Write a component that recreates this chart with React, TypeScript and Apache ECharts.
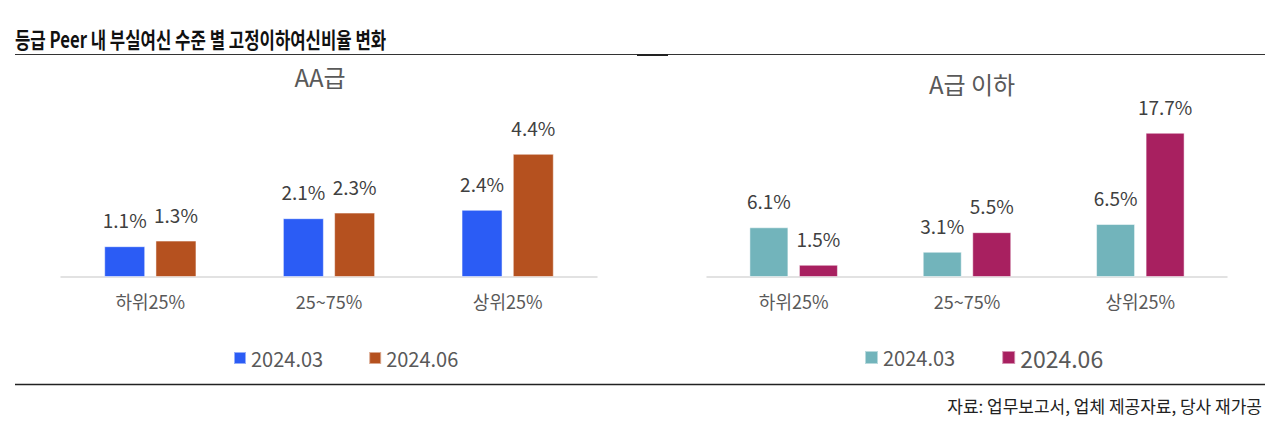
import { useEffect, useRef } from "react";
import * as echarts from "echarts";

const CATEGORIES = ["하위25%", "25~75%", "상위25%"];
const PERIODS = ["2024.03", "2024.06"];
// AA급
const AA_MAR = [1.1, 2.1, 2.4];
const AA_JUN = [1.3, 2.3, 4.4];
// A급 이하
const A_MAR = [6.1, 3.1, 6.5];
const A_JUN = [1.5, 5.5, 17.7];

const TITLE = "등급 Peer 내 부실여신 수준 별 고정이하여신비율 변화";
const SOURCE = "자료: 업무보고서, 업체 제공자료, 당사 재가공";

const FONT = "'Noto Sans CJK KR', 'Noto Sans', sans-serif";
const GRAY = "#595959";
const LABEL = "#404040";

export default function App() {
  const ref = useRef<HTMLDivElement>(null);

  useEffect(() => {
    document.body.style.margin = "0";
    if (!ref.current) return;
    const chart = echarts.init(ref.current, undefined, { renderer: "svg" });

    const bar = (name: string, data: number[], color: string, axis: number) => ({
      name,
      type: "bar",
      xAxisIndex: axis,
      yAxisIndex: axis,
      data,
      barWidth: axis === 0 ? 41 : 39,
      barGap: axis === 0 ? "25%" : "27%",
      itemStyle: { color, borderColor: "rgba(255,255,255,0.5)", borderWidth: 1 },
      label: {
        show: true,
        position: "top",
        distance: 17,
        color: LABEL,
        fontSize: 19,
        fontFamily: FONT,
        formatter: (p: { value: number }) => `${p.value.toFixed(1)}%`,
      },
    });

    const xAx = (i: number) => ({
      type: "category",
      gridIndex: i,
      data: CATEGORIES,
      axisLine: { lineStyle: { color: "#d9d9d9", width: 1.5 } },
      axisTick: { show: false },
      axisLabel: { color: GRAY, fontSize: 18, fontFamily: FONT, margin: 15 },
    });

    chart.setOption({
      animation: false,
      backgroundColor: "#fff",
      textStyle: { fontFamily: FONT },
      title: [
        { text: "AA급", left: 315, top: 59, textAlign: "center",
          textStyle: { color: GRAY, fontSize: 24, fontWeight: "normal", fontFamily: FONT } },
        { text: "A급 이하", left: 967, top: 66, textAlign: "center",
          textStyle: { color: GRAY, fontSize: 24, fontWeight: "normal", fontFamily: FONT } },
      ],
      legend: [
        {
          data: ["AA " + PERIODS[0], "AA " + PERIODS[1]],
          left: 233, top: 348, padding: 0, itemWidth: 12, itemHeight: 12, itemGap: 45,
          icon: "rect",
          formatter: (n: string) => n.split(" ")[1],
          textStyle: { color: GRAY, fontSize: 20, fontFamily: FONT },
        },
        {
          data: ["A " + PERIODS[0], "A " + PERIODS[1]],
          left: 864, top: 346, padding: 0, itemWidth: 13, itemHeight: 13, itemGap: 46,
          icon: "rect",
          formatter: (n: string) => n.endsWith(PERIODS[1]) ? `{b|${n.split(" ")[1]}}` : `{a|${n.split(" ")[1]}}`,
          textStyle: {
            color: GRAY, fontFamily: FONT,
            rich: { a: { fontSize: 20, color: GRAY, fontFamily: FONT }, b: { fontSize: 23, color: GRAY, fontFamily: FONT } },
          },
        },
      ],
      grid: [
        { left: 61, width: 536, top: 137, bottom: 155 },
        { left: 707, width: 520, top: 114, bottom: 155 },
      ],
      xAxis: [xAx(0), xAx(1)],
      yAxis: [
        { type: "value", gridIndex: 0, min: 0, max: 5, show: false, splitLine: { show: false } },
        { type: "value", gridIndex: 1, min: 0, max: 20, show: false, splitLine: { show: false } },
      ],
      series: [
        bar("AA " + PERIODS[0], AA_MAR, "#2b5cf5", 0),
        bar("AA " + PERIODS[1], AA_JUN, "#b5511f", 0),
        bar("A " + PERIODS[0], A_MAR, "#72b4bb", 1),
        bar("A " + PERIODS[1], A_JUN, "#a82060", 1),
      ],
      graphic: [
        {
          type: "text", x: 15, y: 38, scaleX: 0.76,
          style: { text: TITLE, fill: "#111", font: `bold 22px ${FONT}`, textVerticalAlign: "middle" },
        },
        { type: "line", shape: { x1: 15, y1: 54.5, x2: 1265, y2: 54.5 }, style: { stroke: "#333", lineWidth: 1 } },
        { type: "rect", shape: { x: 637, y: 54, width: 31, height: 2 }, style: { fill: "#222" } },
        { type: "line", shape: { x1: 15, y1: 384.5, x2: 1265, y2: 384.5 }, style: { stroke: "#222", lineWidth: 1.5 } },
        {
          type: "text", x: 1262, y: 405,
          style: { text: SOURCE, fill: "#222", font: `17px ${FONT}`, textAlign: "right", textVerticalAlign: "middle" },
        },
      ],
    });

    return () => chart.dispose();
  }, []);

  return <div ref={ref} style={{ width: 1280, height: 432 }} />;
}
